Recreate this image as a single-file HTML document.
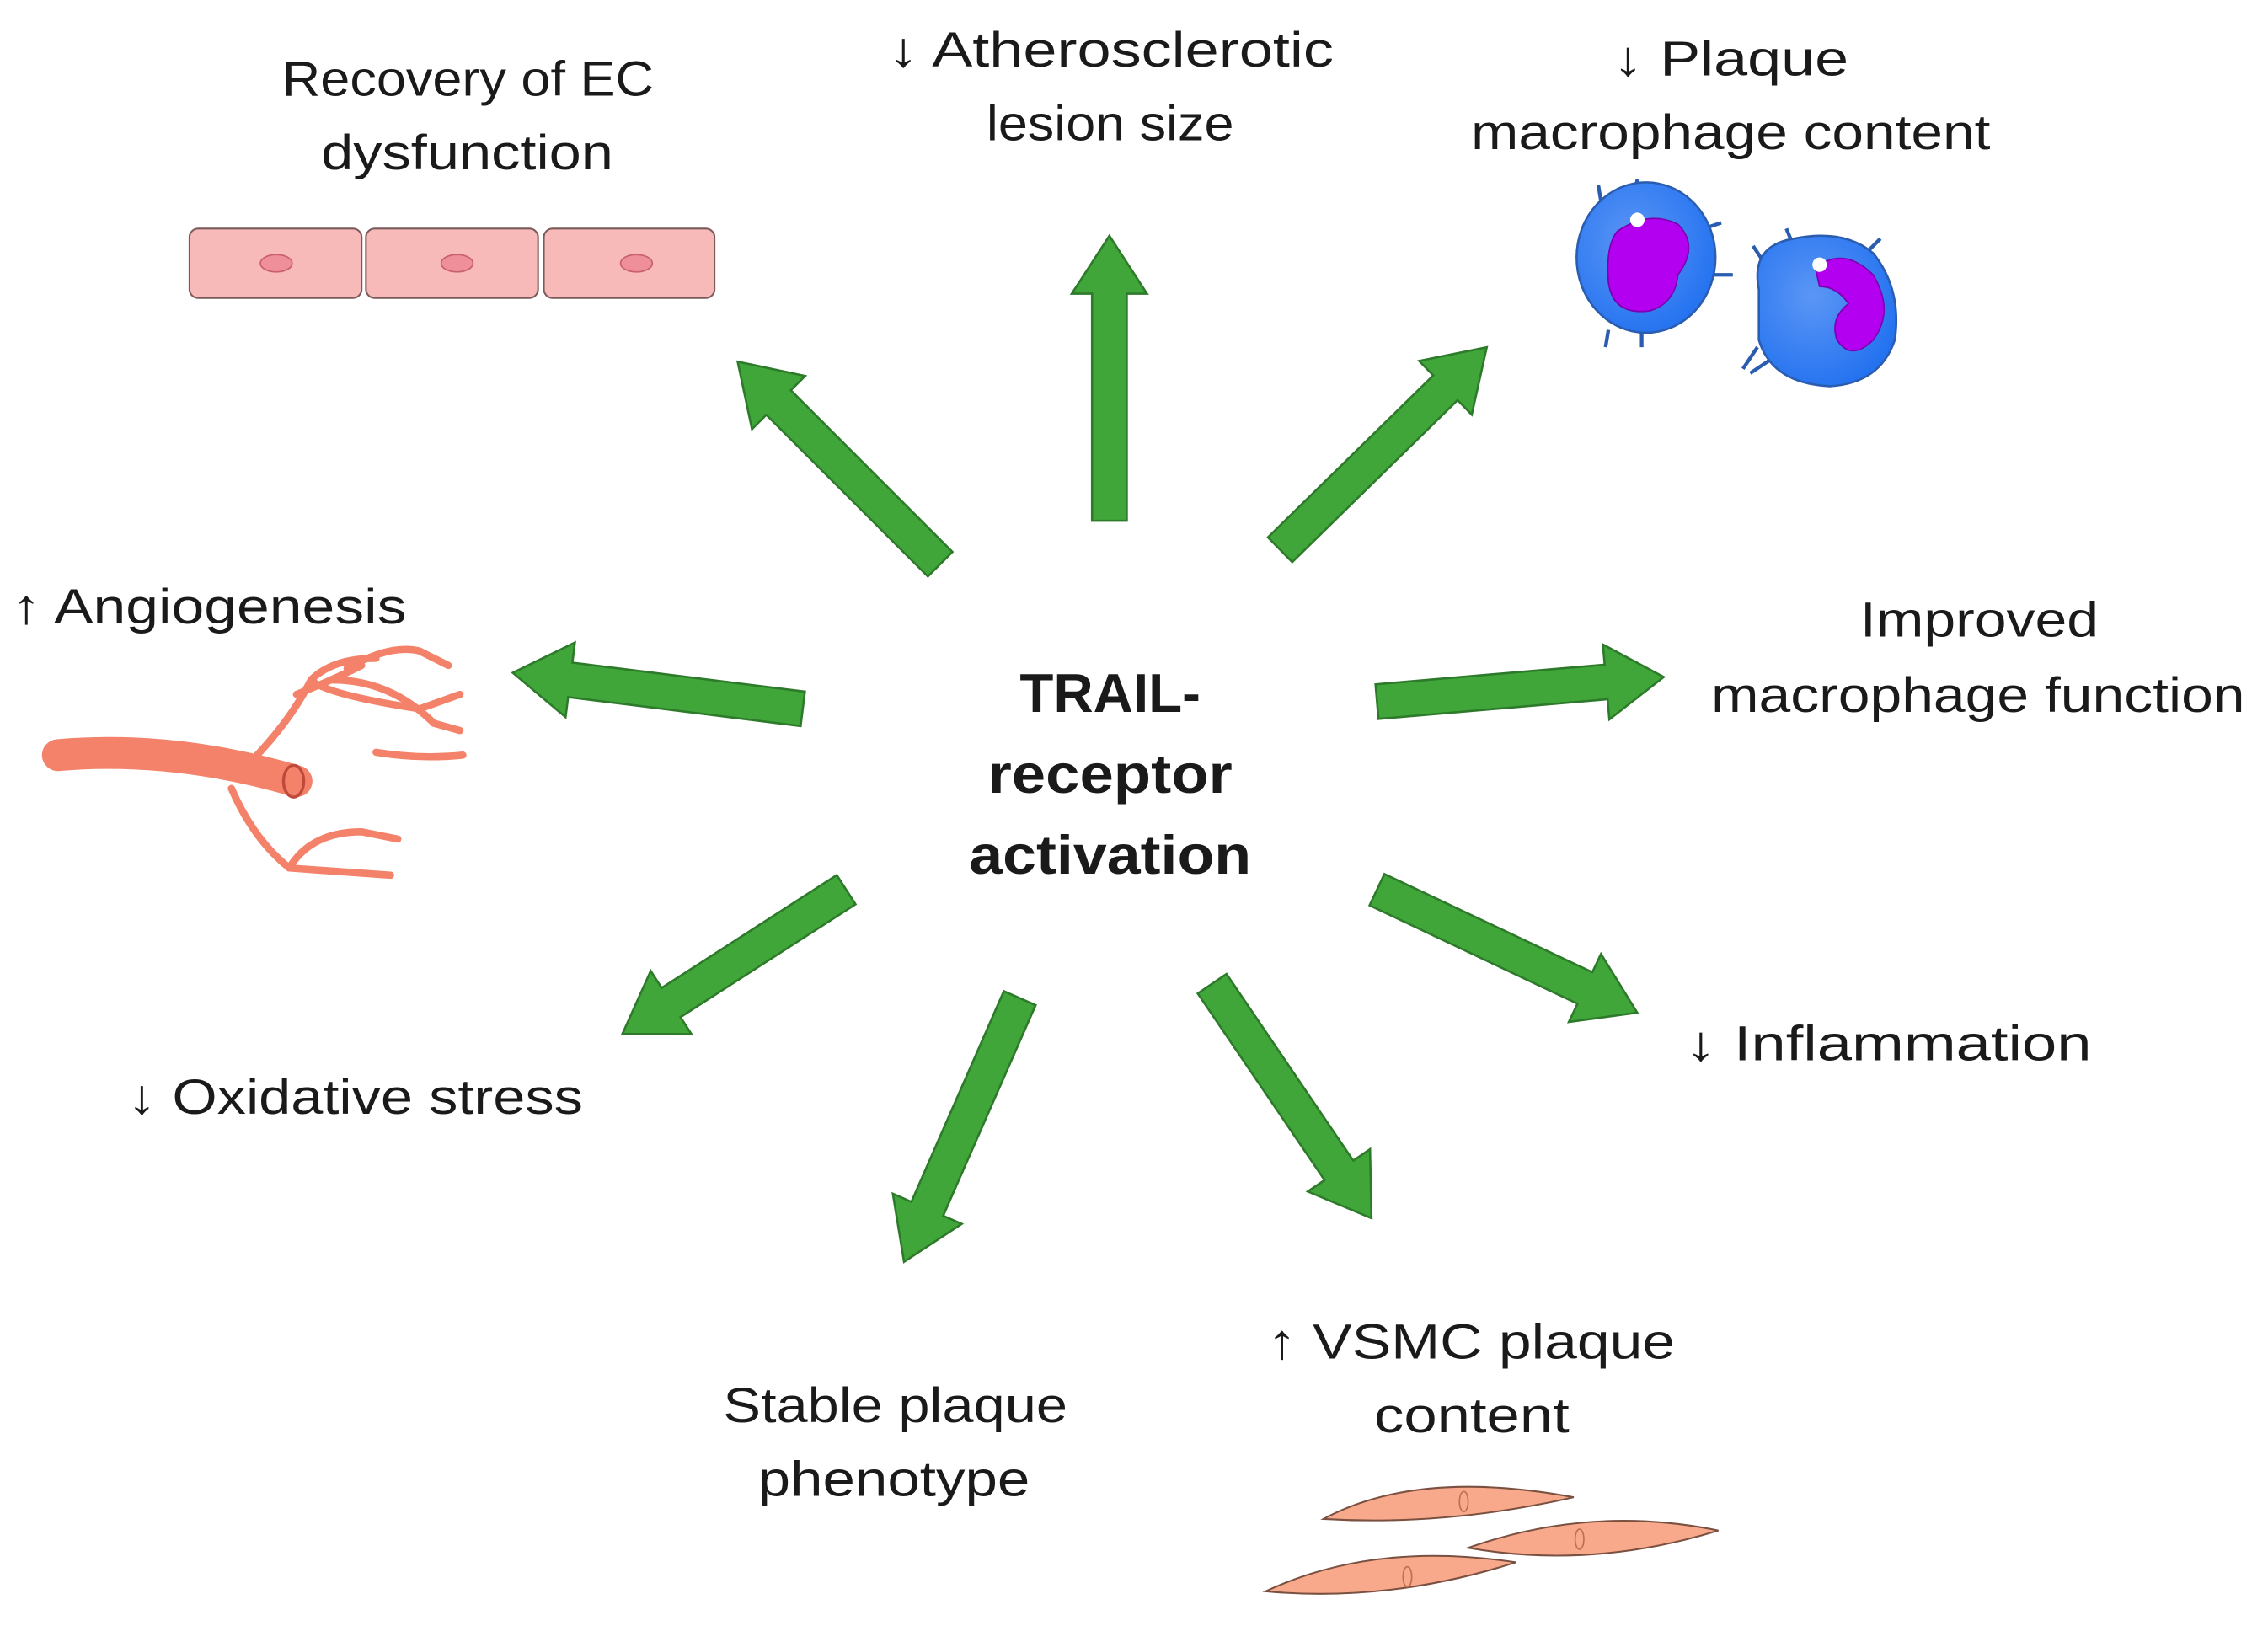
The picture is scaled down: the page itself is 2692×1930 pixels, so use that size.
<!DOCTYPE html>
<html><head><meta charset="utf-8"><style>
html,body{margin:0;padding:0;background:#fff;}
svg{display:block;}
text{font-family:"Liberation Sans",sans-serif;fill:#1a1a1a;}
</style></head><body>
<svg width="2692" height="1930" viewBox="0 0 1568 1124" preserveAspectRatio="none" xmlns="http://www.w3.org/2000/svg">
<defs>
<radialGradient id="bl" cx="0.4" cy="0.4" r="0.7"><stop offset="0" stop-color="#5b96f5"/><stop offset="1" stop-color="#1f6ff0"/></radialGradient>
</defs>
<g fill="#40a63a" stroke="#2d7a2a" stroke-width="1.5">
<polygon transform="translate(650,390) rotate(-135)" points="0,-12 158,-12 158,-26 198,0 158,26 158,12 0,12"/>
<polygon transform="translate(767,360) rotate(-90)" points="0,-12 157,-12 157,-26 197,0 157,26 157,12 0,12"/>
<polygon transform="translate(885,380) rotate(-44.4)" points="0,-12 160,-12 160,-26 200,0 160,26 160,12 0,12"/>
<polygon transform="translate(555,490) rotate(187.1)" points="0,-12 162,-12 162,-26 202,0 162,26 162,12 0,12"/>
<polygon transform="translate(952,485) rotate(-4.9)" points="0,-12 159,-12 159,-26 199,0 159,26 159,12 0,12"/>
<polygon transform="translate(585,615) rotate(147.2)" points="0,-12 144,-12 144,-26 184,0 144,26 144,12 0,12"/>
<polygon transform="translate(705,690) rotate(113.7)" points="0,-12 159,-12 159,-26 199,0 159,26 159,12 0,12"/>
<polygon transform="translate(838,680) rotate(55.8)" points="0,-12 156,-12 156,-26 196,0 156,26 156,12 0,12"/>
<polygon transform="translate(952,615) rotate(25.3)" points="0,-12 159,-12 159,-26 199,0 159,26 159,12 0,12"/>
</g>
<!-- EC cells -->
<g stroke="#7a5a5a" stroke-width="1.2" fill="#f8b9b9">
<rect x="131" y="158" width="119" height="48" rx="6"/>
<rect x="253" y="158" width="119" height="48" rx="6"/>
<rect x="376" y="158" width="118" height="48" rx="6"/>
</g>
<g fill="#ef8f9a" stroke="#c86070" stroke-width="1">
<ellipse cx="191" cy="182" rx="11" ry="6"/><ellipse cx="316" cy="182" rx="11" ry="6"/><ellipse cx="440" cy="182" rx="11" ry="6"/>
</g>
<!-- macrophages -->
<g stroke="#2a5cb0" stroke-width="2.5" fill="none">
<path d="M1107,140 L1105,128 M1130,137 L1132,124 M1178,158 L1190,154 M1185,190 L1198,190 M1112,228 L1110,240 M1135,230 L1135,240 M1222,185 L1212,170 M1240,170 L1235,158 M1290,175 L1300,165 M1215,240 L1205,255 M1225,248 L1210,258"/>
</g>
<ellipse cx="1138" cy="178" rx="48" ry="52" fill="url(#bl)" stroke="#2a5cb0" stroke-width="1.5"/>
<path d="M1118,160 Q1140,145 1160,155 Q1175,170 1160,190 Q1158,210 1140,215 Q1115,218 1112,195 Q1110,170 1118,160Z" fill="#b400f0" stroke="#7a00b0" stroke-width="1"/>
<circle cx="1132" cy="152" r="5" fill="#fff"/>
<path d="M1216,200 Q1210,170 1240,165 Q1275,158 1295,175 Q1315,200 1310,235 Q1300,265 1265,267 Q1225,265 1216,235Z" fill="url(#bl)" stroke="#2a5cb0" stroke-width="1.5"/>
<path d="M1255,185 Q1275,170 1295,190 Q1310,215 1295,235 Q1280,250 1270,235 Q1265,220 1278,210 Q1270,198 1258,198Z" fill="#b400f0" stroke="#7a00b0" stroke-width="1"/>
<circle cx="1258" cy="183" r="5" fill="#fff"/>
<!-- vessel -->
<g stroke="#e0604a" fill="none" stroke-linecap="round">
<path d="M40,522 Q120,515 205,540" stroke="#f4826a" stroke-width="22"/>
<g stroke="#f4826a" stroke-width="5">
<path d="M170,530 Q200,500 215,470 Q230,455 260,455"/>
<path d="M215,470 Q225,480 290,490 L318,480"/>
<path d="M230,470 Q270,470 300,500 L318,505"/>
<path d="M205,480 Q230,470 250,460"/>
<path d="M160,545 Q175,580 200,600 L270,605"/>
<path d="M200,600 Q215,575 250,575 L275,580"/>
<path d="M240,462 Q270,445 290,450 L310,460"/>
<path d="M260,520 Q290,525 320,522"/>
</g>
</g>
<ellipse cx="203" cy="540" rx="7" ry="11" fill="#f4826a" stroke="#c04a3a" stroke-width="2"/>
<!-- SMCs -->
<g fill="#f9a98b" stroke="#7a5040" stroke-width="1.2">
<path d="M915,1050 Q980,1015 1088,1035 Q1000,1055 915,1050Z"/>
<path d="M1015,1070 Q1100,1040 1188,1058 Q1100,1085 1015,1070Z"/>
<path d="M875,1100 Q950,1065 1048,1080 Q960,1108 875,1100Z"/>
</g>
<g fill="none" stroke="#c07050" stroke-width="1"><ellipse cx="1012" cy="1038" rx="3" ry="7"/><ellipse cx="1092" cy="1064" rx="3" ry="7"/><ellipse cx="973" cy="1090" rx="3" ry="7"/></g>
<!-- text -->
<g font-size="34" lengthAdjust="spacingAndGlyphs">
<text x="195" y="66" textLength="257" lengthAdjust="spacingAndGlyphs">Recovery of EC</text>
<text x="222" y="117" textLength="202" lengthAdjust="spacingAndGlyphs">dysfunction</text>
<text x="614" y="46" textLength="308" lengthAdjust="spacingAndGlyphs">↓ Atherosclerotic</text>
<text x="682" y="97" textLength="171" lengthAdjust="spacingAndGlyphs">lesion size</text>
<text x="1115" y="52" textLength="163" lengthAdjust="spacingAndGlyphs">↓ Plaque</text>
<text x="1017" y="103" textLength="359" lengthAdjust="spacingAndGlyphs">macrophage content</text>
<text x="1286" y="440" textLength="165" lengthAdjust="spacingAndGlyphs">Improved</text>
<text x="1183" y="492" textLength="369" lengthAdjust="spacingAndGlyphs">macrophage function</text>
<text x="500" y="983" textLength="238" lengthAdjust="spacingAndGlyphs">Stable plaque</text>
<text x="524" y="1034" textLength="188" lengthAdjust="spacingAndGlyphs">phenotype</text>
<text x="876" y="939" textLength="282" lengthAdjust="spacingAndGlyphs">↑ VSMC plaque</text>
<text x="950" y="990" textLength="135" lengthAdjust="spacingAndGlyphs">content</text>
<text x="8" y="431" textLength="273" lengthAdjust="spacingAndGlyphs">↑ Angiogenesis</text>
<text x="88" y="770" textLength="315" lengthAdjust="spacingAndGlyphs">↓ Oxidative stress</text>
<text x="1165" y="733" textLength="281" lengthAdjust="spacingAndGlyphs">↓ Inflammation</text>
</g>
<g font-size="38" font-weight="bold">
<text x="705" y="492" textLength="125" lengthAdjust="spacingAndGlyphs">TRAIL-</text>
<text x="683" y="548" textLength="169" lengthAdjust="spacingAndGlyphs">receptor</text>
<text x="670" y="604" textLength="195" lengthAdjust="spacingAndGlyphs">activation</text>
</g>
</svg>
</body></html>
